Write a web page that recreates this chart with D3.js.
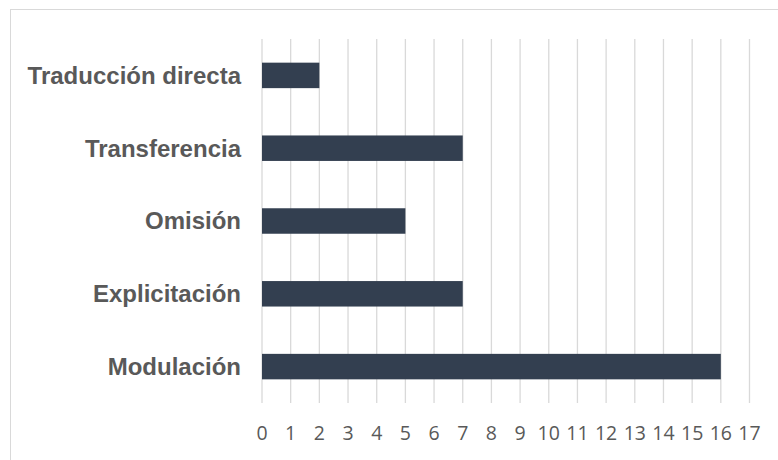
<!DOCTYPE html>
<html>
<head>
<meta charset="utf-8">
<title></title>
<script src="https://d3js.org/d3.v7.min.js"></script>
<style>
  body { margin: 0; background: #fff; }
</style>
</head>
<body>
<div id="chart"></div>
<script>
// data
var categories = ["Traducción directa", "Transferencia", "Omisión", "Explicitación", "Modulación"];
var values = [2, 7, 5, 7, 16];
var xTicks = d3.range(0, 18);

var width = 778, height = 460;
var svg = d3.select("#chart").append("svg")
    .attr("width", width)
    .attr("height", height);

// outer chart frame
svg.append("rect")
    .attr("x", 10.5).attr("y", 9.5)
    .attr("width", 800).attr("height", 500)
    .attr("fill", "none")
    .attr("stroke", "#d9d9d9");

var plotLeft = 262, plotRight = 749.5, plotTop = 39, plotBottom = 403;

var x = d3.scaleLinear().domain([0, 17]).range([plotLeft, plotRight]);
var y = d3.scaleBand().domain(categories).range([plotTop, plotBottom]).paddingInner(0.65).paddingOuter(0.325);

// vertical gridlines
svg.append("g")
    .selectAll("line")
    .data(xTicks)
    .enter()
    .append("line")
    .attr("x1", function (d) { return x(d); })
    .attr("x2", function (d) { return x(d); })
    .attr("y1", plotTop)
    .attr("y2", plotBottom)
    .attr("stroke", "#d9d9d9")
    .attr("stroke-width", 1.3);

// bars
svg.append("g")
    .selectAll("rect")
    .data(values)
    .enter()
    .append("rect")
    .attr("x", x(0))
    .attr("y", function (d, i) { return y(categories[i]); })
    .attr("width", function (d) { return x(d) - x(0); })
    .attr("height", y.bandwidth())
    .attr("fill", "#333f50");

// category labels
svg.append("g")
    .selectAll("text")
    .data(categories)
    .enter()
    .append("text")
    .attr("x", 241)
    .attr("y", function (d) { return y(d) + y.bandwidth() / 2; })
    .attr("dy", "0.35em")
    .style("text-anchor", "end")
    .style("font-family", "'Liberation Sans', Arial, sans-serif")
    .style("font-weight", "bold")
    .style("font-size", "24px")
    .style("fill", "#595959")
    .text(function (d) { return d; });

// x tick labels
svg.append("g")
    .selectAll("text")
    .data(xTicks)
    .enter()
    .append("text")
    .attr("x", function (d) { return x(d); })
    .attr("y", 433)
    .attr("dy", "0.35em")
    .style("text-anchor", "middle")
    .style("font-family", "'Open Sans', sans-serif")
    .style("font-size", "19.5px")
    .style("fill", "#595959")
    .text(function (d) { return d; });
</script>
</body>
</html>
